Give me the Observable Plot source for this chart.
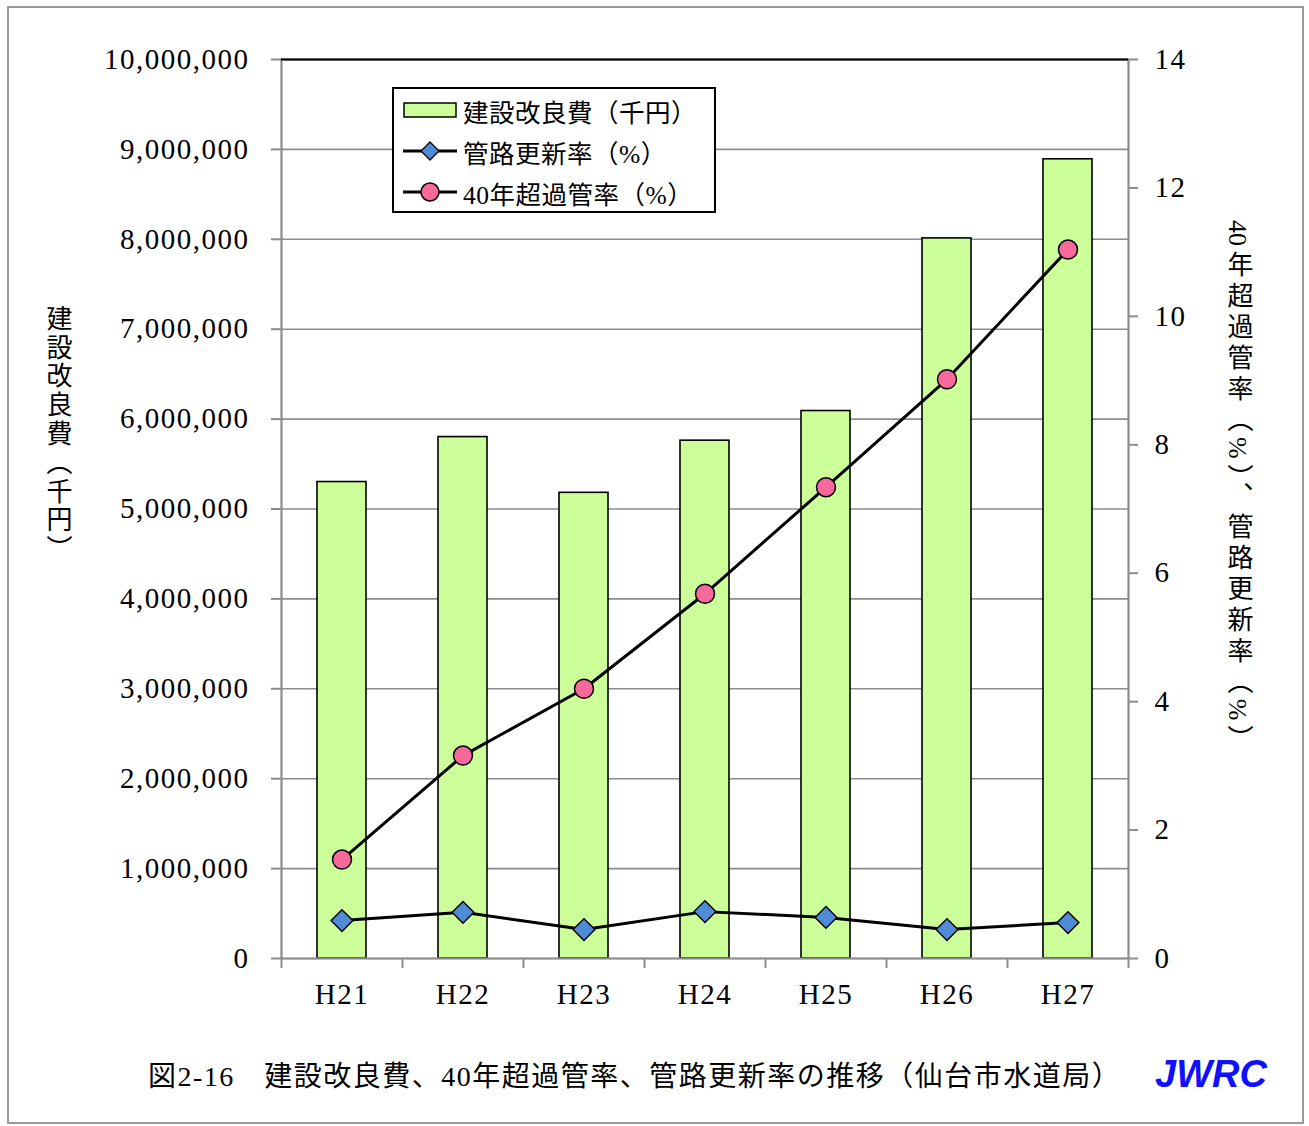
<!DOCTYPE html>
<html><head><meta charset="utf-8">
<script src="https://cdn.jsdelivr.net/npm/d3@7"></script>
<script src="https://cdn.jsdelivr.net/npm/@observablehq/plot@0.6"></script>
<style>
body{margin:0;background:#fff;}
#wrap{position:relative;width:1309px;height:1126px;overflow:hidden;font-family:"Liberation Serif","Noto Sans CJK JP",serif;}
#border{position:absolute;left:7px;top:6px;width:1297px;height:1118px;border:2px solid #9a9a9a;box-sizing:border-box;}
#chart{position:absolute;left:0;top:0;}
#legend{position:absolute;left:392px;top:87px;width:324px;height:126px;border:2px solid #000;box-sizing:border-box;background:#fff;}
.row{position:absolute;left:9px;height:36px;display:flex;align-items:center;font-size:25.5px;white-space:nowrap;letter-spacing:0.5px;}
.row svg{margin-right:6px;}
.ytitle{position:absolute;writing-mode:vertical-rl;font-size:26px;color:#000;white-space:nowrap;}
#caption{position:absolute;left:148px;top:1054px;font-size:28px;letter-spacing:1.5px;white-space:nowrap;}
#jwrc{position:absolute;left:1155px;top:1053px;font-family:"Liberation Sans",sans-serif;font-weight:bold;font-style:italic;font-size:38px;color:#1010ff;}
</style></head>
<body>
<div id="wrap">
  <div id="border"></div>
  <div id="chart"></div>
  <div id="legend">
    <div class="row" style="top:3px"><svg width="54" height="20"><rect x="1" y="3" width="52" height="14" fill="#ccff99" stroke="#000" stroke-width="1.5"/></svg>建設改良費（千円）</div>
    <div class="row" style="top:44px"><svg width="54" height="24"><line x1="0" y1="12" x2="54" y2="12" stroke="#000" stroke-width="3"/><path d="M27,3 L36,12 L27,21 L18,12 Z" fill="#4f8bd6" stroke="#000" stroke-width="1.3"/></svg>管路更新率（%）</div>
    <div class="row" style="top:85px"><svg width="54" height="24"><line x1="0" y1="12" x2="54" y2="12" stroke="#000" stroke-width="3"/><circle cx="27" cy="12" r="9" fill="#f7689b" stroke="#000" stroke-width="1.5"/></svg>40年超過管率（%）</div>
  </div>
  <div class="ytitle" id="ltitle" style="left:38px;top:305px;letter-spacing:2.8px;">建設改良費（千円）</div>
  <div class="ytitle" id="rtitle" style="left:1219px;top:220px;letter-spacing:5px;"><span style="letter-spacing:0">4</span>0年超過管率（%）、管路更新率（%）</div>
  <div id="caption">図2-16　建設改良費、40年超過管率、管路更新率の推移（仙台市水道局）</div>
  <div id="jwrc">JWRC</div>
</div>
<script>
const years = ["H21","H22","H23","H24","H25","H26","H27"];
const cost = [5300000, 5800000, 5180000, 5760000, 6090000, 8010000, 8890000];
const renewalRate = [0.59, 0.72, 0.45, 0.73, 0.64, 0.45, 0.56];
const over40Rate = [1.54, 3.16, 4.20, 5.68, 7.34, 9.02, 11.04];
const leftTicks = [0,1000000,2000000,3000000,4000000,5000000,6000000,7000000,8000000,9000000,10000000];
const rightTicks = [0,2,4,6,8,10,12,14];

const yMax = 10000000, rMax = 14;
const toLeft = v => v * yMax / rMax;
const rows = years.map((y,i)=>({year:y, cost:cost[i], renewal:renewalRate[i], over40:over40Rate[i]}));
const grey = "#8c8c8c";

const chart = Plot.plot({
  width: 1309, height: 1040,
  marginLeft: 281, marginRight: 181, marginTop: 59, marginBottom: 82,
  style: {fontFamily: "'Liberation Serif', serif", fontSize: "29px", color: "#000", background: "transparent", letterSpacing: "1.5px"},
  x: {type: "band", domain: years, padding: 0, axis: null},
  y: {domain: [0, yMax], axis: null},
  marks: [
    Plot.ruleY(leftTicks.slice(1, -1), {stroke: grey, strokeWidth: 1.6}),
    Plot.barY(rows, {x: "year", y: "cost", fill: "#ccff99", stroke: "#000", strokeWidth: 1.6, insetLeft: 36, insetRight: 36}),
    Plot.frame({stroke: grey, strokeWidth: 2.2}),
    Plot.ruleY([yMax], {stroke: "#000", strokeWidth: 2}),
    Plot.axisY({ticks: leftTicks, tickFormat: d3.format(","), tickSize: 10, tickPadding: 22, stroke: grey, strokeWidth: 2, label: null, fontSize: 29}),
    Plot.axisY({anchor: "right", ticks: rightTicks.map(toLeft), tickFormat: d => String(Math.round(d * rMax / yMax)), tickSize: 9, tickPadding: 17, stroke: grey, strokeWidth: 2, label: null, fontSize: 29}),
    Plot.axisX({tickSize: 10, tickFormat: () => "", dx: -60.5, stroke: grey, strokeWidth: 2, label: null}),
    Plot.axisX({ticks: ["H27"], tickSize: 10, tickFormat: () => "", dx: 60.5, stroke: grey, strokeWidth: 2, label: null}),
    Plot.axisX({tickSize: 0, tickPadding: 25, label: null, fontSize: 29}),
    Plot.line(rows, {x: "year", y: d => toLeft(d.over40), stroke: "#000", strokeWidth: 3}),
    Plot.line(rows, {x: "year", y: d => toLeft(d.renewal), stroke: "#000", strokeWidth: 3}),
    Plot.dot(rows, {x: "year", y: d => toLeft(d.renewal), symbol: "diamond2", r: 9.8, fill: "#4f8bd6", stroke: "#000", strokeWidth: 1.4}),
    Plot.dot(rows, {x: "year", y: d => toLeft(d.over40), r: 9.5, fill: "#f7689b", stroke: "#000", strokeWidth: 1.5})
  ]
});
document.getElementById("chart").appendChild(chart);
</script>
</body></html>
